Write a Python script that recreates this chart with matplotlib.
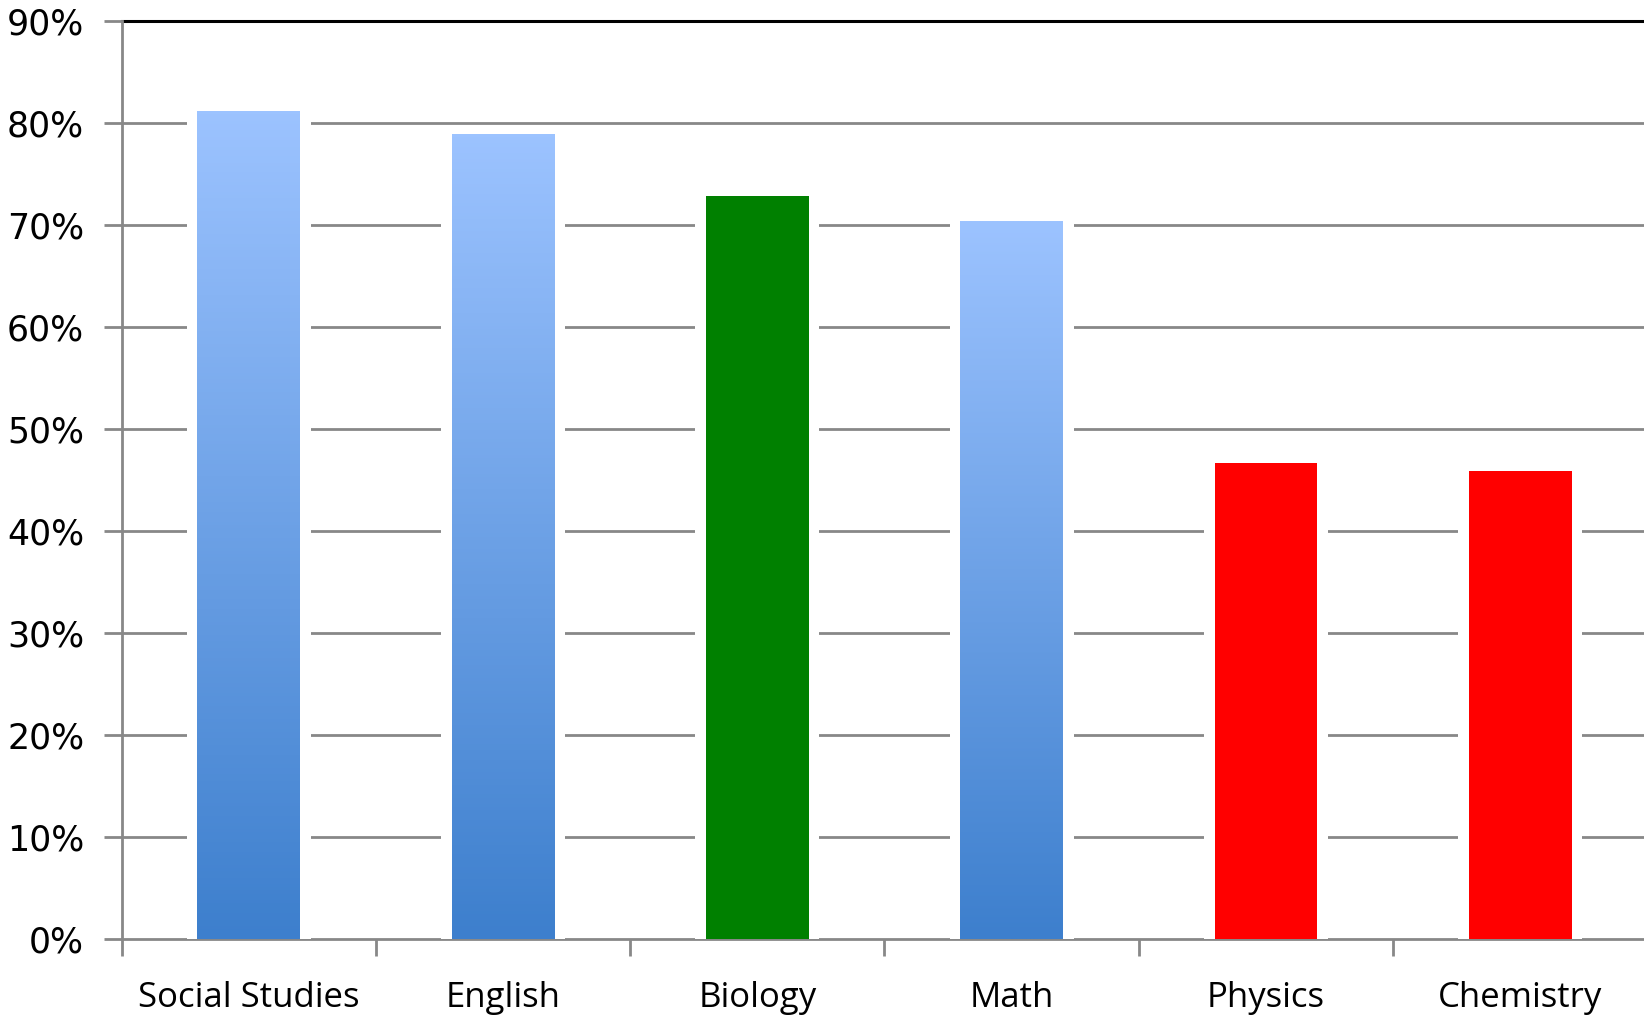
import numpy as np
import matplotlib.pyplot as plt
from matplotlib.colors import LinearSegmentedColormap
from matplotlib.ticker import FixedLocator

# Chart data
subjects = ['Social Studies', 'English', 'Biology', 'Math', 'Physics', 'Chemistry']
scores = [0.811, 0.789, 0.728, 0.703, 0.467, 0.459]
styles = ['gradient', 'gradient', 'green', 'gradient', 'red', 'red']
yticks = [0.0, 0.1, 0.2, 0.3, 0.4, 0.5, 0.6, 0.7, 0.8, 0.9]

fig = plt.figure(figsize=(16.44, 10.15), dpi=100)
ax = fig.add_axes([0.074, 0.0749, 0.928, 0.9044])

bar_width = 0.404
gap = 0.042
blue_map = LinearSegmentedColormap.from_list('blues', ['#3D7FCD', '#9CC3FF'])
grad = np.linspace(0, 1, 256).reshape(-1, 1)

for i in range(len(subjects)):
    h = scores[i]
    left = i - bar_width / 2
    # white backing so grid lines stop short of the bar
    ax.add_patch(plt.Rectangle((left - gap, 0), bar_width + 2 * gap, h,
                               facecolor='white', edgecolor='none', zorder=1))
    if styles[i] == 'gradient':
        ax.imshow(grad, cmap=blue_map, origin='lower', aspect='auto',
                  extent=[left, left + bar_width, 0, h], zorder=2)
    elif styles[i] == 'green':
        ax.bar(i, h, width=bar_width, color='#008000', zorder=2)
    else:
        ax.bar(i, h, width=bar_width, color='#FF0000', zorder=2)

ax.set_xlim(-0.5, 5.5)
ax.set_ylim(0, 0.9)

# grid lines
for y in yticks[1:-1]:
    ax.axhline(y, color='#888888', linewidth=2, zorder=0)
ax.axhline(0.9, color='black', linewidth=2.2, zorder=0, clip_on=False)
ax.axhline(0.0, color='#888888', linewidth=2, zorder=0, clip_on=False)

for side in ['top', 'right', 'bottom']:
    ax.spines[side].set_visible(False)
ax.spines['left'].set_color('#888888')
ax.spines['left'].set_linewidth(2)

ax.set_yticks(yticks)
ax.set_yticklabels([str(int(round(v * 100))) + '%' for v in yticks],
                   fontsize=25, family='DejaVu Sans')
ax.tick_params(axis='y', length=13, width=2, color='#888888', pad=14)

ax.set_xticks(range(len(subjects)))
ax.set_xticklabels(subjects, fontsize=25, family='Open Sans')
ax.tick_params(axis='x', which='major', length=0, pad=30)
ax.xaxis.set_minor_locator(FixedLocator([b - 0.5 for b in range(len(subjects) + 1)]))
ax.tick_params(axis='x', which='minor', length=12, width=2, color='#888888')

fig.savefig('out.png', dpi=100)
